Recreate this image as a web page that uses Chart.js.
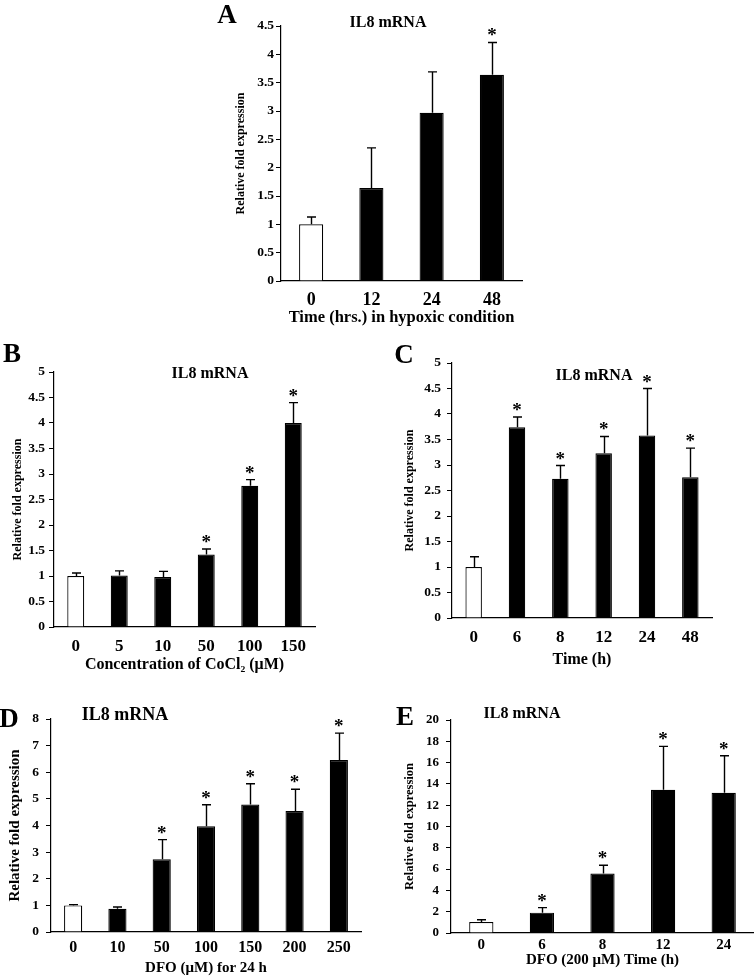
<!DOCTYPE html>
<html><head><meta charset="utf-8">
<script src="https://cdn.jsdelivr.net/npm/chart.js@4.4.1/dist/chart.umd.min.js"></script>
<style>
html,body{margin:0;padding:0;background:#fff;}
body{width:754px;height:976px;position:relative;overflow:hidden;font-family:'Liberation Serif','Times New Roman',serif;}
canvas{position:absolute;}
.t{position:absolute;transform:translate(-50%,-50%);font-weight:bold;line-height:1;white-space:nowrap;color:#000;}
</style></head><body>
<script>
// ---------- DATA ----------
const catsA = ['0','12','24','48'];
const meanA = [1.00, 1.64, 2.97, 3.64];
const errA  = [0.13, 0.71, 0.72, 0.57];
const sigA  = [false, false, false, true];
const yTicksA = [0,0.5,1,1.5,2,2.5,3,3.5,4,4.5];

const catsB = ['0','5','10','50','100','150'];
const meanB = [1.00, 1.01, 0.98, 1.42, 2.77, 4.00];
const errB  = [0.06, 0.09, 0.11, 0.11, 0.12, 0.40];
const sigB  = [false, false, false, true, true, true];
const yTicksB = [0,0.5,1,1.5,2,2.5,3,3.5,4,4.5,5];

const catsC = ['0','6','8','12','24','48'];
const meanC = [1.00, 3.74, 2.73, 3.23, 3.58, 2.76];
const errC  = [0.20, 0.20, 0.26, 0.33, 0.92, 0.57];
const sigC  = [false, true, true, true, true, true];
const yTicksC = [0,0.5,1,1.5,2,2.5,3,3.5,4,4.5,5];

const catsD = ['0','10','50','100','150','200','250'];
const meanD = [1.00, 0.87, 2.73, 3.97, 4.79, 4.54, 6.46];
const errD  = [0.03, 0.07, 0.74, 0.81, 0.78, 0.82, 1.01];
const sigD  = [false, false, true, true, true, true, true];
const yTicksD = [0,1,2,3,4,5,6,7,8];

const catsE = ['0','6','8','12','24'];
const meanE = [1.03, 1.91, 5.58, 13.45, 13.17];
const errE  = [0.22, 0.47, 0.78, 4.07, 3.48];
const sigE  = [false, true, true, true, true];
const yTicksE = [0,2,4,6,8,10,12,14,16,18,20];

const yTitle = 'Relative fold expression';
const chartTitle = 'IL8 mRNA';

// ---------- LAYOUT ----------
const FONT = "'Liberation Serif','Times New Roman',serif";
const panels = [
  {letter:'A', cats:catsA, mean:meanA, err:errA, sig:sigA, yTicks:yTicksA,
   xTitle:'Time (hrs.) in hypoxic condition',
   L:281,R:522,T:26,B:281, cx:180, cy:0, cw:345, xTitleY:318, yTitleX:241,
   yTitleSize:12, xTickSize:18, xTickY:300, xTitleSize:16.5, yTickSize:13.5, yTickPad:2, bp:0.4,
   letterPos:[227,14], titlePos:[388,22], titleSize:16},
  {letter:'B', cats:catsB, mean:meanB, err:errB, sig:sigB, yTicks:yTicksB,
   xTitle:'Concentration of CoCl\u2082 (\u03bcM)',
   L:54,R:315,T:372,B:627, cx:0, cy:340, cw:320, xTitleY:665, yTitleX:18,
   yTitleSize:12, xTickSize:17, xTickY:647, xTitleSize:16, yTickSize:13.5, yTickPad:4, bp:0.39,
   letterPos:[12,353], titlePos:[210,373], titleSize:16},
  {letter:'C', cats:catsC, mean:meanC, err:errC, sig:sigC, yTicks:yTicksC,
   xTitle:'Time (h)',
   L:452,R:712,T:363,B:618, cx:380, cy:340, cw:340, xTitleY:660, yTitleX:410,
   yTitleSize:12, xTickSize:17, xTickY:638, xTitleSize:16, yTickSize:13.5, yTickPad:6, bp:0.38,
   letterPos:[404,354], titlePos:[594,375], titleSize:16},
  {letter:'D', cats:catsD, mean:meanD, err:errD, sig:sigD, yTicks:yTicksD,
   xTitle:'DFO (\u03bcM) for 24 h',
   L:51,R:361,T:719,B:932, cx:0, cy:680, cw:366, xTitleY:968, yTitleX:15,
   yTitleSize:15, xTickSize:16, xTickY:948, xTitleSize:15, yTickSize:13.5, yTickPad:7, bp:0.41,
   letterPos:[9,718], titlePos:[125,714], titleSize:18},
  {letter:'E', cats:catsE, mean:meanE, err:errE, sig:sigE, yTicks:yTicksE,
   xTitle:'DFO (200 \u03bcM) Time (h)',
   L:451,R:754,T:720,B:933, cx:380, cy:680, cw:374, xTitleY:960, yTitleX:410,
   yTitleSize:12.5, xTickSize:15, xTickY:945, xTitleSize:15, yTickSize:13, yTickPad:7, bp:0.4,
   letterPos:[405,716], titlePos:[522,713], titleSize:16}
];

const errPlugin = {
  id:'errbars',
  afterDatasetsDraw(chart){
    const p = chart.$panel;
    const meta = chart.getDatasetMeta(0);
    const ys = chart.scales.y;
    const ctx = chart.ctx;
    ctx.save();
    ctx.strokeStyle = '#000';
    ctx.lineWidth = 1.4;
    ctx.fillStyle = '#000';
    meta.data.forEach((bar, i) => {
      const x = Math.round(bar.x) + 0.5;
      const y0 = ys.getPixelForValue(p.mean[i]);
      const y1 = ys.getPixelForValue(p.mean[i] + p.err[i]);
      ctx.beginPath();
      ctx.moveTo(x, y0); ctx.lineTo(x, y1);
      ctx.moveTo(x - 4.5, y1); ctx.lineTo(x + 4.5, y1);
      ctx.stroke();
      if (p.sig[i]) {
        ctx.font = 'bold 19px ' + FONT;
        ctx.textAlign = 'center';
        ctx.textBaseline = 'alphabetic';
        ctx.fillText('*', bar.x, y1 - 1);
      }
    });
    ctx.restore();
  }
};

function addText(txt, pos, size){
  const d = document.createElement('div');
  d.className = 't';
  d.textContent = txt;
  d.style.left = pos[0] + 'px';
  d.style.top = pos[1] + 'px';
  d.style.fontSize = size + 'px';
  document.body.appendChild(d);
}

panels.forEach(p => {
  const yTitleLH = p.yTitleSize * 1.2;
  const xTitleLH = p.xTitleSize * 1.2;
  const xTickLH = p.xTickSize * 1.2;
  const scaleLeft = p.yTitleX - yTitleLH / 2;
  const padLeft = scaleLeft - p.cx;
  const yAxisW = p.L - scaleLeft;
  const bottom = p.xTitleY + xTitleLH / 2;
  const ch = Math.ceil(bottom - p.cy);
  const xAxisH = (p.cy + ch) - p.B;
  const padRight = (p.cx + p.cw) - p.R;
  const xTickPad = (p.xTickY - p.B) - xTickLH / 2;
  const xTitlePadBottom = (p.cy + ch) - p.xTitleY - xTitleLH / 2;

  const cv = document.createElement('canvas');
  cv.width = p.cw; cv.height = ch;
  cv.style.left = p.cx + 'px'; cv.style.top = p.cy + 'px';
  cv.style.width = p.cw + 'px'; cv.style.height = ch + 'px';
  document.body.appendChild(cv);

  const ymax = p.yTicks[p.yTicks.length - 1];
  new Chart(cv, {
    type: 'bar',
    data: {
      labels: p.cats,
      datasets: [{
        data: p.mean,
        backgroundColor: p.mean.map((v, i) => i === 0 ? '#ffffff' : '#000000'),
        borderColor: '#000',
        borderWidth: 1.2,
        barPercentage: p.bp,
        categoryPercentage: 1
      }]
    },
    options: {
      responsive: false, animation: false, devicePixelRatio: 1,
      layout: {padding: {left: padLeft, right: padRight, top: p.T - p.cy, bottom: 0}},
      plugins: {legend: {display: false}, tooltip: {enabled: false}, title: {display: false}},
      scales: {
        x: {
          grid: {display: false, drawTicks: false, tickLength: 0},
          border: {display: true, color: '#000', width: 1.2},
          ticks: {color: '#000', padding: xTickPad, font: {family: FONT, size: p.xTickSize, weight: 'bold'}, maxRotation: 0, autoSkip: false},
          title: {display: true, text: p.xTitle, color: '#000', padding: {top: 0, bottom: xTitlePadBottom}, font: {family: FONT, size: p.xTitleSize, weight: 'bold'}},
          afterFit(s) { s.height = xAxisH; }
        },
        y: {
          min: 0, max: ymax,
          afterBuildTicks(s) { s.ticks = p.yTicks.map(v => ({value: v})); },
          grid: {display: true, drawOnChartArea: false, drawTicks: true, tickLength: 5, color: '#000', lineWidth: 1},
          border: {display: true, color: '#000', width: 1.2},
          ticks: {color: '#000', padding: p.yTickPad, font: {family: FONT, size: p.yTickSize, weight: 'bold'}, callback: (v) => String(v)},
          title: {display: true, text: yTitle, color: '#000', padding: {top: 0, bottom: 0}, font: {family: FONT, size: p.yTitleSize, weight: 'bold'}},
          afterFit(s) { s.width = yAxisW; }
        }
      }
    },
    plugins: [{id:'attach', beforeInit(c){ c.$panel = p; }}, errPlugin]
  });

  addText(p.letter, p.letterPos, 27);
  addText(chartTitle, p.titlePos, p.titleSize);
});
</script>
</body></html>
